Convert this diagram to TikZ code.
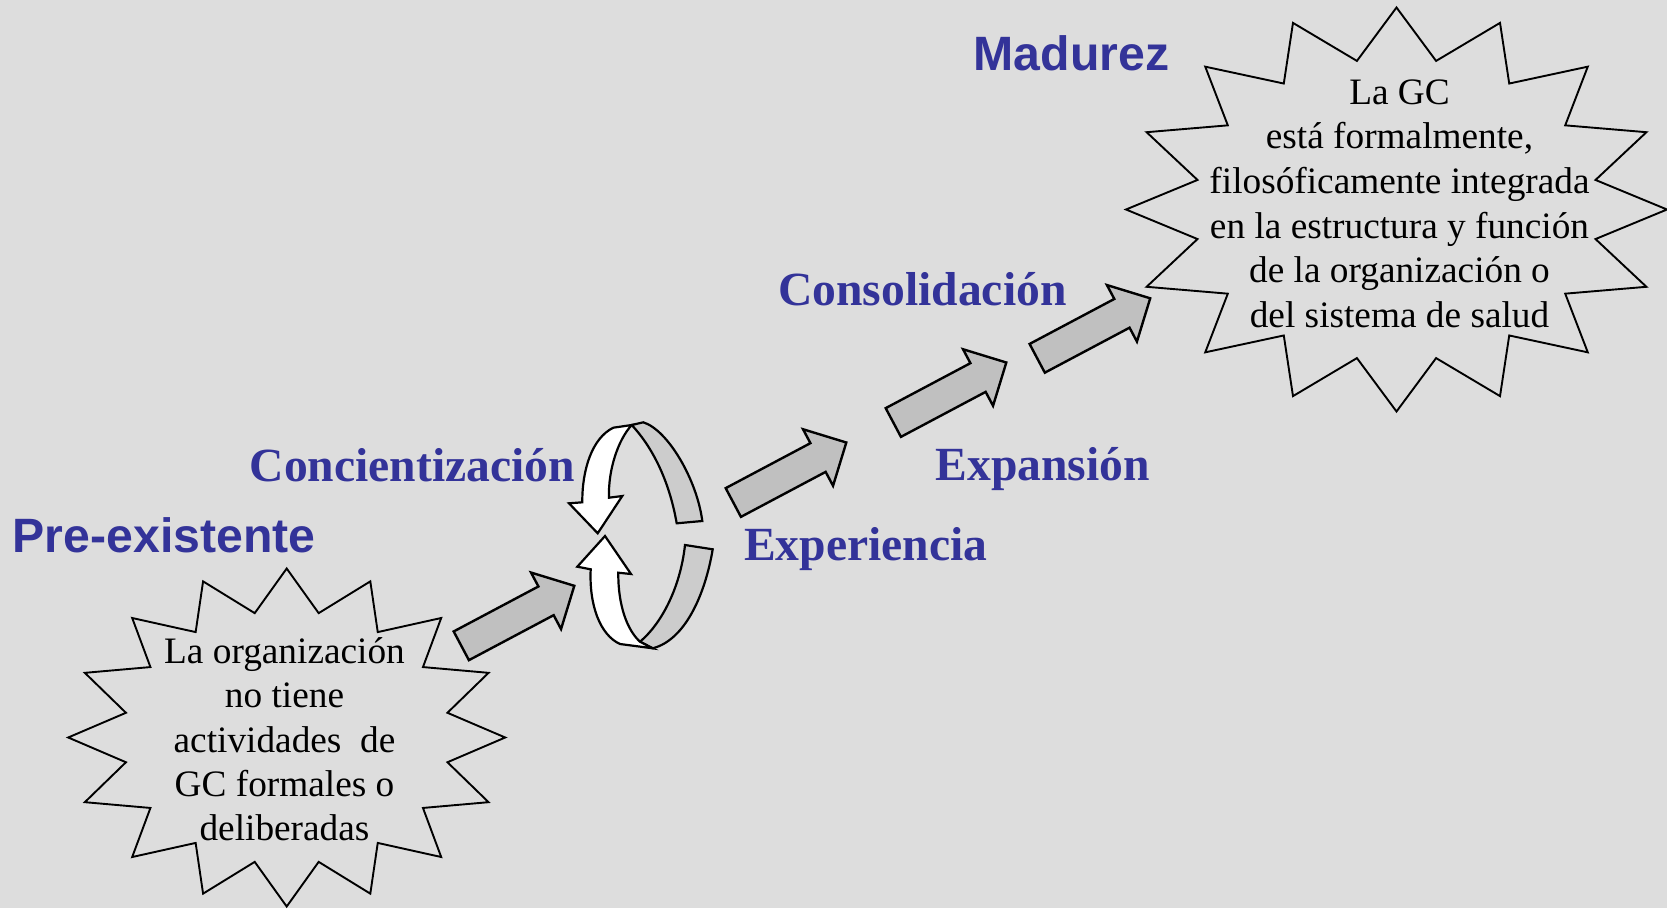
\documentclass[tikz,border=0pt]{standalone}
\usepackage{fontspec}
\setmainfont{Liberation Serif}
\newfontfamily\arialfont{Liberation Sans}
\definecolor{bgcol}{RGB}{221,221,221}
\definecolor{lblblue}{RGB}{51,51,153}
\definecolor{arrowgray}{RGB}{192,192,192}
\definecolor{bandgray}{RGB}{204,204,204}
\tikzset{
  lbl/.style={inner sep=0pt, anchor=base west, text=lblblue, font=\fontsize{47.6}{57}\selectfont\bfseries},
  lblsans/.style={lbl, font=\fontsize{48.2}{57}\selectfont\arialfont\bfseries},
  bodytext/.style={inner sep=0pt, anchor=base, align=center, text=black},
  starline/.style={draw=black, line width=1.9pt, line join=miter},
  arrowshape/.style={draw=black, fill=arrowgray, line width=2.4pt, line join=miter},
  cycw/.style={draw=black, fill=white, line width=2.2pt, line join=miter},
  cycg/.style={draw=black, fill=bandgray, line width=2.2pt, line join=miter},
  barrow/.pic={\draw[arrowshape] (7.62,14.36) -- (92.35,-30.63) -- (99.74,-16.72) -- (113,-60) -- (69.72,-73.26) -- (77.11,-59.35) -- (-7.62,-14.36) -- cycle;}
}
\begin{document}
\begin{tikzpicture}[x=1pt,y=-1pt]
\fill[bgcol] (0,0) rectangle (1667,908);
\useasboundingbox (0,0) rectangle (1667,908);

% star 1
\begin{scope}[shift={(286.7,737.5)}]
\draw[starline] (0:218.5 and 169) \foreach \k in {0,...,15}{ -- (\k*22.5+11.25:163.9 and 126.8) -- (\k*22.5+22.5:218.5 and 169) } -- cycle;
\end{scope}
% star 2
\begin{scope}[shift={(1396.5,209.5)}]
\draw[starline] (0:270.5 and 202) \foreach \k in {0,...,15}{ -- (\k*22.5+11.25:202.9 and 151.5) -- (\k*22.5+22.5:270.5 and 202) } -- cycle;
\end{scope}

% texts in stars (anchor base = last line baseline)
\node[bodytext, font=\fontsize{37.3}{44.2}\selectfont] (t1) at (284.5,840.5)
  {La organización\\no tiene\\actividades~ de\\GC formales o\\deliberadas};
\node[bodytext, font=\fontsize{37.3}{44.7}\selectfont] (t2) at (1399.5,327.5)
  {La GC\\está formalmente,\\filosóficamente integrada\\en la estructura y función\\de la organización o\\del sistema de salud};

% labels
\node[lblsans] (madurez) at (973.5,70) {Madurez};
\node[lbl] (consol) at (778,305) {Consolidación};
\node[lbl] (concien) at (249.5,481.6) {Concientización};
\node[lblsans] (preex) at (12.5,552.8) {Pre-existente};
\node[lbl] (exper) at (744,560.3) {Experiencia};
\node[lbl] (expan) at (935.5,480.5) {Expansión};

% block arrows
\pic (a1) at (461.3,645.8) {barrow};
\pic (a2) at (733.3,502.5) {barrow};
\pic (a3) at (893.3,422.5) {barrow};
\pic (a4) at (1037.2,358.3) {barrow};

% cycle: upper piece
\draw[cycg] (631.7,425) -- (643.3,422.3)
  .. controls (668,430) and (697,480) .. (702.3,521)
  -- (676.7,523.3)
  .. controls (670,485) and (655,450) .. (631.7,425) -- cycle;
\draw[cycw] (613.3,427.7) -- (631.7,425)
  .. controls (618,440) and (608,470) .. (609,497.7)
  -- (622.3,496) -- (597.7,533.3) -- (569,503.3) -- (582.3,502.3)
  .. controls (582,470) and (592,438) .. (613.3,427.7) -- cycle;
% cycle: lower piece
\draw[cycg] (652.7,648.3)
  .. controls (685,640) and (705,595) .. (712.7,549.3)
  -- (685,545)
  .. controls (680,590) and (660,625) .. (640,641.7) -- cycle;
\draw[cycw] (605,536) -- (631,574) -- (618.3,572.7)
  .. controls (618,605) and (627,630) .. (640,641.7)
  -- (652.7,648.3) -- (620,644)
  .. controls (600,635) and (589,605) .. (590.7,569.3)
  -- (577.3,566.7) -- cycle;
\end{tikzpicture}
\end{document}
